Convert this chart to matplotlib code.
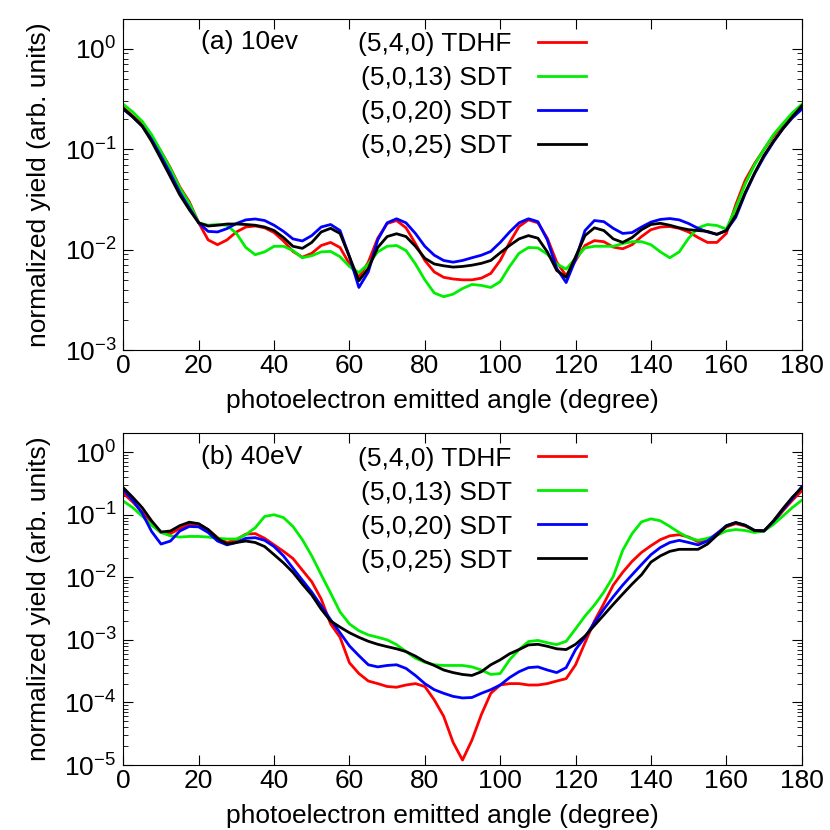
import numpy as np
import matplotlib
matplotlib.use("Agg")
from matplotlib import pyplot as plt

# fonts: helvetica-ish look like the gnuplot original
plt.rcParams['font.family'] = ['Liberation Sans', 'DejaVu Sans']
plt.rcParams['mathtext.fontset'] = 'custom'
plt.rcParams['mathtext.rm'] = 'Liberation Sans'
plt.rcParams['mathtext.it'] = 'Liberation Sans:italic'
plt.rcParams['mathtext.default'] = 'regular'

# angle grid (degree), values every 2.5 deg
angles = np.linspace(0, 180, 73)
labels = ["(5,4,0) TDHF", "(5,0,13) SDT", "(5,0,20) SDT", "(5,0,25) SDT"]
colors = ["#ff0000", "#00ee00", "#0000ff", "#000000"]

# (a) 10 eV
a_tdhf = [0.26, 0.215, 0.18, 0.135, 0.095, 0.065, 0.042, 0.03, 0.0185, 0.0125,
          0.0112, 0.0125, 0.015, 0.0168, 0.0172, 0.0165, 0.0148, 0.0122, 0.0096, 0.0084,
          0.0092, 0.011, 0.0118, 0.0105, 0.0072, 0.0053, 0.0075, 0.013, 0.0182, 0.0195,
          0.0165, 0.0115, 0.0078, 0.006, 0.0053, 0.0051, 0.005, 0.005, 0.0052, 0.0058,
          0.0078, 0.0118, 0.017, 0.0198, 0.0185, 0.013, 0.0075, 0.0055, 0.0078, 0.011,
          0.0123, 0.012, 0.0106, 0.0102, 0.0112, 0.0135, 0.0158, 0.0168, 0.017, 0.0163,
          0.015, 0.0132, 0.0118, 0.0118, 0.0145, 0.028, 0.049, 0.072, 0.1, 0.135,
          0.175, 0.22, 0.265]
a_sdt13 = [0.28, 0.235, 0.19, 0.14, 0.095, 0.064, 0.041, 0.029, 0.0185, 0.0175,
           0.0178, 0.0175, 0.0145, 0.0105, 0.0089, 0.0095, 0.0108, 0.0108, 0.0098, 0.0083,
           0.0087, 0.0095, 0.0096, 0.0085, 0.0068, 0.0059, 0.0072, 0.0095, 0.0108, 0.011,
           0.0098, 0.0072, 0.005, 0.0037, 0.0034, 0.0036, 0.0041, 0.0045, 0.0044, 0.0042,
           0.0048, 0.0068, 0.0092, 0.0105, 0.0104, 0.009, 0.0072, 0.0064, 0.0082, 0.0104,
           0.0108, 0.0108, 0.0108, 0.0115, 0.012, 0.012, 0.0112, 0.0095, 0.0083, 0.0095,
           0.013, 0.0165, 0.0178, 0.0174, 0.016, 0.026, 0.045, 0.07, 0.1, 0.14,
           0.18, 0.23, 0.28]
a_sdt20 = [0.25, 0.21, 0.17, 0.125, 0.085, 0.057, 0.037, 0.026, 0.0185, 0.0152,
           0.015, 0.0162, 0.0182, 0.0198, 0.0202, 0.0195, 0.0175, 0.0152, 0.0128, 0.0122,
           0.0138, 0.0168, 0.0178, 0.0155, 0.0085, 0.0042, 0.006, 0.0125, 0.0185, 0.0203,
           0.0185, 0.0145, 0.0108, 0.0088, 0.0078, 0.0075, 0.0078, 0.0083, 0.0088, 0.0096,
           0.0118, 0.015, 0.0185, 0.0203, 0.019, 0.0125, 0.0065, 0.0047, 0.008, 0.0155,
           0.0195, 0.019, 0.0163, 0.0145, 0.0148, 0.0168, 0.0188, 0.02, 0.0204, 0.0198,
           0.0182, 0.0163, 0.015, 0.0142, 0.0155, 0.021, 0.036, 0.057, 0.084, 0.118,
           0.16, 0.205, 0.25]
a_sdt25 = [0.255, 0.21, 0.17, 0.12, 0.08, 0.053, 0.035, 0.025, 0.0185, 0.0172,
           0.0175, 0.018, 0.018, 0.0178, 0.0175, 0.0168, 0.0155, 0.0132, 0.0108, 0.0103,
           0.0118, 0.015, 0.0163, 0.0145, 0.0085, 0.0049, 0.0065, 0.0105, 0.0135, 0.0144,
           0.0135, 0.0108, 0.0082, 0.0072, 0.0069, 0.0067, 0.0068, 0.007, 0.0073, 0.0078,
           0.0093, 0.011, 0.0128, 0.0138, 0.013, 0.0095, 0.0062, 0.0053, 0.0085, 0.0138,
           0.0165, 0.0155, 0.0128, 0.0118, 0.0132, 0.0158, 0.0178, 0.0183, 0.0175, 0.0165,
           0.0158, 0.0155, 0.0152, 0.0142, 0.0155, 0.022, 0.037, 0.058, 0.087, 0.12,
           0.16, 0.21, 0.27]

# (b) 40 eV
b_tdhf = [0.22, 0.16, 0.11, 0.07, 0.052, 0.05, 0.06, 0.07, 0.07, 0.058,
          0.043, 0.036, 0.04, 0.049, 0.05, 0.042, 0.033, 0.026, 0.02, 0.013,
          0.0085, 0.0045, 0.0018, 0.0011, 0.00043, 0.00029, 0.00022, 0.0002, 0.00018, 0.000175,
          0.00019, 0.0002, 0.00018, 0.00011, 6e-5, 2.3e-5, 1.2e-5, 2.5e-5, 6.4e-5, 0.00014,
          0.00019, 0.0002, 0.0002, 0.00019, 0.00019, 0.0002, 0.00022, 0.00024, 0.0004, 0.0009,
          0.002, 0.0038, 0.0075, 0.012, 0.018, 0.025, 0.032, 0.04, 0.046, 0.048,
          0.044, 0.037, 0.039, 0.05, 0.064, 0.072, 0.066, 0.056, 0.056, 0.075,
          0.115, 0.17, 0.24]
b_sdt13 = [0.165, 0.13, 0.095, 0.068, 0.052, 0.046, 0.044, 0.045, 0.045, 0.044,
           0.042, 0.041, 0.041, 0.048, 0.062, 0.094, 0.1, 0.09, 0.065, 0.04,
           0.022, 0.011, 0.0056, 0.0028, 0.0018, 0.0014, 0.0012, 0.0011, 0.001, 0.00084,
           0.00065, 0.00051, 0.00044, 0.0004, 0.00039, 0.00039, 0.00039, 0.00037, 0.00033, 0.00028,
           0.00029, 0.00048, 0.0007, 0.00094, 0.00098, 0.0009, 0.00084, 0.00095, 0.0015, 0.0024,
           0.0036, 0.0058, 0.0103, 0.027, 0.05, 0.077, 0.086, 0.08, 0.065, 0.052,
           0.043, 0.039, 0.042, 0.047, 0.055, 0.058, 0.056, 0.052, 0.055, 0.07,
           0.095, 0.13, 0.17]
b_sdt20 = [0.25, 0.17, 0.106, 0.054, 0.034, 0.038, 0.055, 0.065, 0.064, 0.052,
           0.038, 0.033, 0.036, 0.042, 0.043, 0.039, 0.031, 0.022, 0.014, 0.009,
           0.0058, 0.0035, 0.0021, 0.0013, 0.0008, 0.00056, 0.0004, 0.00037, 0.00039, 0.0004,
           0.00035, 0.00027, 0.0002, 0.00016, 0.00014, 0.000125, 0.000118, 0.00012, 0.00014, 0.00016,
           0.00019, 0.00025, 0.00031, 0.00036, 0.00037, 0.00033, 0.0003, 0.00036, 0.0007, 0.0011,
           0.0019, 0.0031, 0.0049, 0.0075, 0.011, 0.016, 0.023, 0.03, 0.036, 0.039,
           0.036, 0.033, 0.038, 0.05, 0.067, 0.075, 0.068, 0.056, 0.055, 0.078,
           0.12, 0.18, 0.28]
b_sdt25 = [0.27, 0.19, 0.13, 0.08, 0.053, 0.055, 0.067, 0.076, 0.072, 0.058,
           0.042, 0.034, 0.036, 0.038, 0.036, 0.031, 0.023, 0.017, 0.012, 0.0078,
           0.0052, 0.0031, 0.002, 0.0016, 0.0013, 0.0011, 0.00095, 0.00085, 0.00078, 0.00072,
           0.00065, 0.00055, 0.00045, 0.00039, 0.00033, 0.0003, 0.00028, 0.00027, 0.00031, 0.0004,
           0.00048, 0.0006, 0.0007, 0.00083, 0.00085, 0.00079, 0.00072, 0.0007, 0.00085, 0.00115,
           0.0017, 0.0025, 0.0037, 0.0054, 0.0078, 0.011, 0.0175, 0.022, 0.026, 0.028,
           0.028, 0.028, 0.034, 0.047, 0.066, 0.075, 0.068, 0.056, 0.055, 0.08,
           0.125, 0.19, 0.27]

panels = [
    ("(a) 10ev", [a_tdhf, a_sdt13, a_sdt20, a_sdt25], 1e-3),
    ("(b) 40eV", [b_tdhf, b_sdt13, b_sdt20, b_sdt25], 1e-5),
]

fs = 19
fig = plt.figure(figsize=(8.3, 8.3), dpi=100)
boxes = [[0.1486, 0.5783, 0.8173, 0.3992], [0.1486, 0.0783, 0.8173, 0.3996]]

for box, (tag, series, ymin) in zip(boxes, panels):
    ax = fig.add_axes(box)
    for ys, lab, c in zip(series, labels, colors):
        ax.plot(angles, ys, color=c, lw=2, label=lab, solid_joinstyle="round")
    ax.set_yscale("log")
    ax.set_xlim(0, 180)
    ax.set_ylim(ymin, 2)
    ax.set_xticks(range(0, 181, 20))
    ax.tick_params(which="both", direction="in", top=True, right=True, labelsize=fs)
    ax.tick_params(which="major", length=7)
    ax.tick_params(which="minor", length=3.5)
    ax.tick_params(axis="x", which="major", pad=3)
    ax.tick_params(axis="y", which="major", pad=5)
    ax.set_xlabel("photoelectron emitted angle (degree)", fontsize=fs)
    ax.set_ylabel("normalized yield (arb. units)", fontsize=fs)
    ax.xaxis.set_label_coords(0.471, -0.118)
    ax.yaxis.set_label_coords(-0.107, 0.5)
    ax.text(0.115, 0.93, tag, transform=ax.transAxes, fontsize=fs, va="center")
    ax.legend(loc="upper right", bbox_to_anchor=(0.701, 1.0), markerfirst=False,
              frameon=False, fontsize=fs, handlelength=1.8, handletextpad=1.0,
              labelspacing=0.38, borderpad=0, borderaxespad=0.5)

fig.savefig("out.png", dpi=100)
